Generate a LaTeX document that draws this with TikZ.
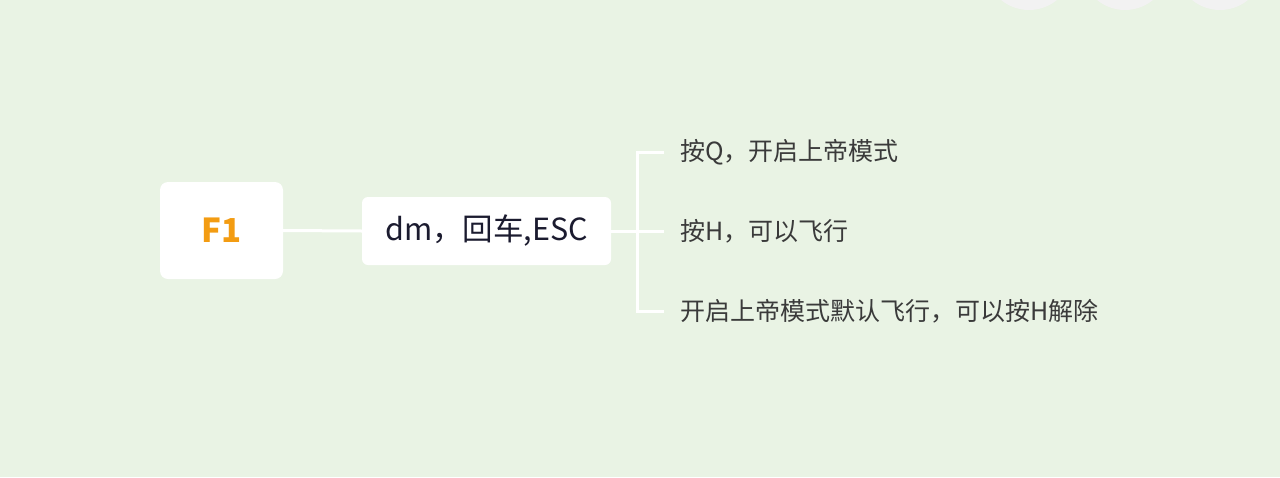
\documentclass[tikz,border=0pt]{standalone}
\usepackage{fontspec}
\setmainfont{Noto Sans CJK SC}
\definecolor{bg}{HTML}{E9F3E4}
\definecolor{dot}{HTML}{F2F2F2}
\definecolor{orangef}{HTML}{F39C12}
\definecolor{navy}{HTML}{1B1B2F}
\definecolor{leafc}{HTML}{3A3A3A}
\tikzset{
  rootbox/.style={fill=white, rounded corners=8pt, minimum width=123pt, minimum height=97pt, inner sep=0pt,
    text=orangef, font=\fontsize{33}{36}\selectfont\bfseries},
  midbox/.style={fill=white, rounded corners=6pt, minimum width=249pt, minimum height=68pt, inner sep=0pt,
    text=navy, font=\fontsize{30.5}{34}\selectfont},
  leaf/.style={anchor=west, inner sep=0pt, text=leafc, font=\fontsize{25}{30}\selectfont},
  link/.style={draw=white, line width=3pt},
}
\begin{document}
\begin{tikzpicture}[x=1pt,y=-1pt]
\begin{scope}
\clip (0,0) rectangle (1280,477);
\fill[bg] (0,0) rectangle (1280,477);
\fill[dot] (1029,-34) circle (44);
\fill[dot] (1125,-34) circle (44);
\fill[dot] (1220,-34) circle (44);
\end{scope}
\useasboundingbox (0,0) rectangle (1280,477);

\node[rootbox] (f1) at (221.5,230.5) {F1};
\node[midbox] (n2) at (486.5,231) {dm，回车,ESC};
\node[leaf] (l1) at (680,152) {按Q，开启上帝模式};
\node[leaf] (l2) at (680,231) {按H，可以飞行};
\node[leaf] (l3) at (680,311) {开启上帝模式默认飞行，可以按H解除};
\coordinate (j) at (637,231);

\draw[link] (f1.east) -- (n2.west);
\draw[link] (n2.east) -- (j);
\draw[link] (j) |- ([xshift=-16pt]l1.west);
\draw[link] (j) -- ([xshift=-16pt]l2.west);
\draw[link] (j) |- ([xshift=-16pt]l3.west);
\end{tikzpicture}
\end{document}
